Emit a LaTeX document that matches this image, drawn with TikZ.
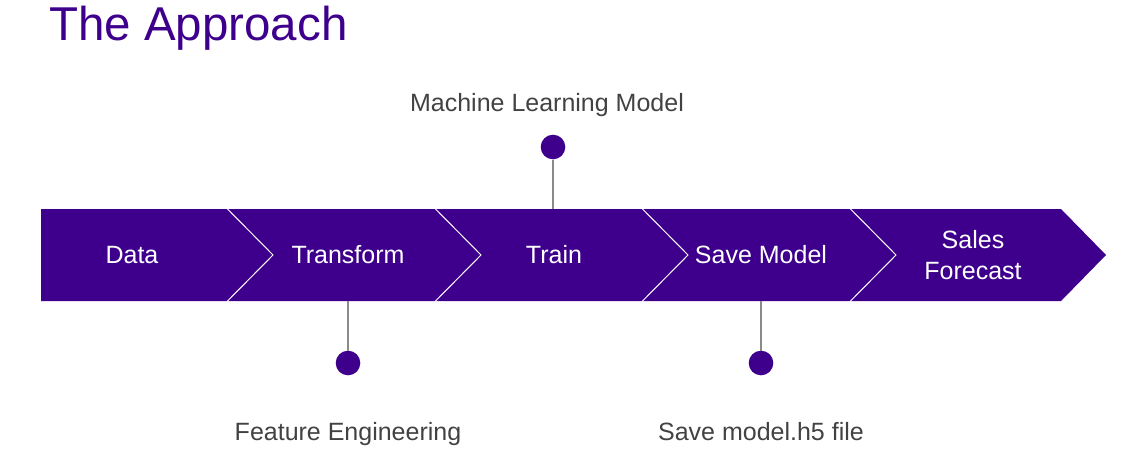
\documentclass[tikz,border=0pt]{standalone}
\usepackage{fontspec}
\setmainfont{Liberation Sans}
\definecolor{brandpurple}{HTML}{3E008C}
\definecolor{labelgray}{HTML}{424242}
\definecolor{pingray}{HTML}{8A8A8A}
\begin{document}
\begin{tikzpicture}[x=1pt,y=-1pt,
  segtext/.style={text=white,font=\fontsize{25}{31}\selectfont,inner sep=0pt,anchor=base},
  pintext/.style={text=labelgray,font=\fontsize{25}{31}\selectfont,inner sep=0pt,anchor=base},
  pindot/.style={circle,fill=brandpurple,draw=none,minimum size=24.6pt,inner sep=0pt},
  pinline/.style={draw=pingray,line width=1.5pt},
  sepline/.style={draw=white,line width=1pt,line join=miter}]
\useasboundingbox (0,0) rectangle (1144,453);
% title
\node[text=brandpurple,font=\fontsize{47.5}{56}\selectfont,inner sep=0pt,anchor=base west] (title) at (49,40) {The Approach};
% band
\fill[brandpurple] (41,209) -- (1061,209) -- (1106,255) -- (1061,301) -- (41,301) -- cycle;
\foreach \b in {227,435,642,850}{
  \draw[sepline] (\b,208.5) -- (\b+46,255) -- (\b,301.5);
}
\coordinate (bandtopTrain) at (553,209);
\coordinate (bandbotTransform) at (348,301);
\coordinate (bandbotSave) at (761,301);
% segment texts
\node[segtext] (seg1) at (132,263) {Data};
\node[segtext] (seg2) at (348,263) {Transform};
\node[segtext] (seg3) at (554,263) {Train};
\node[segtext] (seg4) at (761,263) {Save Model};
\node[segtext,align=center] (seg5) at (973,279) {Sales\\Forecast};
% pins
\node[pindot] (dotML) at (553,147) {};
\node[pindot] (dotFE) at (348,363) {};
\node[pindot] (dotSM) at (761,363) {};
\draw[pinline] (dotML) -- (bandtopTrain);
\draw[pinline] (dotFE) -- (bandbotTransform);
\draw[pinline] (dotSM) -- (bandbotSave);
\node[pintext] (labML) at (547,111.5) {Machine Learning Model};
\node[pintext] (labFE) at (348,440) {Feature Engineering};
\node[pintext] (labSM) at (761,440) {Save model.h5 file};
\end{tikzpicture}
\end{document}
